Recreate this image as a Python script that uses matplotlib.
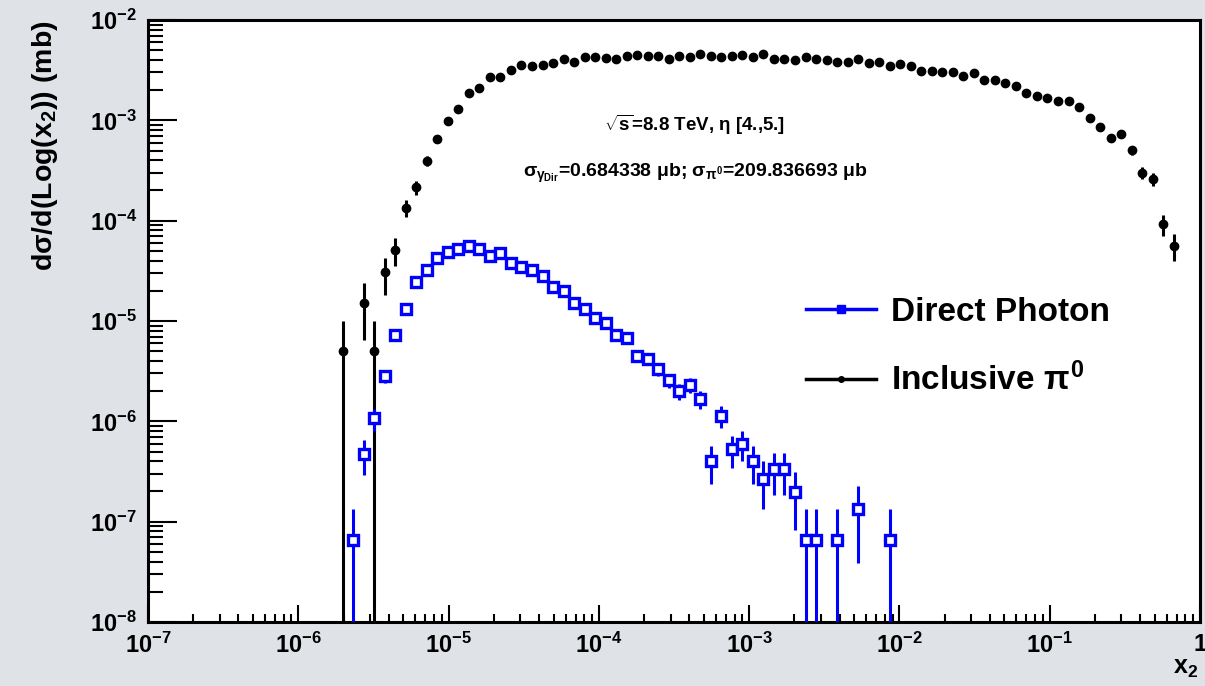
import numpy as np
import matplotlib
matplotlib.use("Agg")
import matplotlib.pyplot as plt
from matplotlib.ticker import LogLocator, FuncFormatter, NullFormatter
from matplotlib.lines import Line2D

plt.rcParams['font.family'] = ['Liberation Sans', 'DejaVu Sans']
plt.rcParams['font.weight'] = 'bold'
plt.rcParams['mathtext.fontset'] = 'custom'
plt.rcParams['mathtext.rm'] = 'Liberation Sans:bold'
plt.rcParams['mathtext.bf'] = 'Liberation Sans:bold'
plt.rcParams['mathtext.it'] = 'Liberation Sans:bold'
plt.rcParams['mathtext.sf'] = 'Liberation Sans:bold'

# ---- histogram binning: 100 log bins in x2 from 1e-7 to 1 ----
n_bins = 100
x_min_exp, x_max_exp = -7, 0

# ---- Inclusive pi0 : bin contents (mb), 0 = empty bin ----
pi0_values = [
    0, 0, 0, 0, 0, 0, 0, 0, 0, 0,
    0, 0, 0, 0, 0, 0, 0, 0, 5.05e-6, 0,
    1.52e-5, 5.05e-6, 3.05e-5, 5.13e-5, 1.34e-4, 2.15e-4, 3.95e-4, 6.56e-4, 9.9e-4, 1.30e-3,
    1.86e-3, 2.08e-3, 2.68e-3, 2.68e-3, 3.20e-3, 3.53e-3, 3.50e-3, 3.53e-3, 3.70e-3, 4.06e-3,
    3.81e-3, 4.25e-3, 4.25e-3, 4.15e-3, 4.10e-3, 4.41e-3, 4.48e-3, 4.41e-3, 4.41e-3, 4.11e-3,
    4.35e-3, 4.25e-3, 4.58e-3, 4.41e-3, 4.25e-3, 4.35e-3, 4.52e-3, 4.25e-3, 4.55e-3, 4.11e-3,
    4.06e-3, 3.97e-3, 4.31e-3, 4.08e-3, 3.99e-3, 3.84e-3, 3.79e-3, 4.08e-3, 3.70e-3, 3.79e-3,
    3.50e-3, 3.61e-3, 3.47e-3, 3.10e-3, 3.10e-3, 3.05e-3, 3.05e-3, 2.79e-3, 2.94e-3, 2.52e-3,
    2.52e-3, 2.34e-3, 2.21e-3, 1.86e-3, 1.76e-3, 1.66e-3, 1.56e-3, 1.57e-3, 1.35e-3, 1.05e-3,
    8.63e-4, 6.61e-4, 7.25e-4, 5.06e-4, 3.00e-4, 2.60e-4, 9.25e-5, 5.62e-5, 0, 0,
]
pi0_errors = [
    0, 0, 0, 0, 0, 0, 0, 0, 0, 0,
    0, 0, 0, 0, 0, 0, 0, 0, 5.05e-6, 0,
    8.7e-6, 5.05e-6, 1.23e-5, 1.6e-5, 2.6e-5, 3.3e-5, 4.4e-5, 5.7e-5, 7.0e-5, 8.1e-5,
    9.6e-5, 1.02e-4, 1.16e-4, 1.16e-4, 1.26e-4, 1.33e-4, 1.33e-4, 1.33e-4, 1.36e-4, 1.45e-4,
    1.45e-4, 1.45e-4, 1.45e-4, 1.45e-4, 1.45e-4, 1.45e-4, 1.45e-4, 1.45e-4, 1.45e-4, 1.45e-4,
    1.45e-4, 1.45e-4, 1.45e-4, 1.45e-4, 1.45e-4, 1.45e-4, 1.45e-4, 1.45e-4, 1.45e-4, 1.45e-4,
    1.45e-4, 1.45e-4, 1.45e-4, 1.45e-4, 1.45e-4, 1.45e-4, 1.45e-4, 1.45e-4, 1.35e-4, 1.35e-4,
    1.35e-4, 1.35e-4, 1.35e-4, 1.23e-4, 1.23e-4, 1.23e-4, 1.23e-4, 1.23e-4, 1.23e-4, 1.12e-4,
    1.12e-4, 1.07e-4, 1.07e-4, 9.3e-5, 9.3e-5, 9.3e-5, 9.3e-5, 9.3e-5, 8.2e-5, 7.2e-5,
    6.6e-5, 5.7e-5, 6.0e-5, 5.0e-5, 3.9e-5, 3.6e-5, 2.15e-5, 1.68e-5, 0, 0,
]

# ---- Direct photon : bin contents (mb), 0 = empty bin ----
gamma_values = [
    0, 0, 0, 0, 0, 0, 0, 0, 0, 0,
    0, 0, 0, 0, 0, 0, 0, 0, 0, 6.64e-8,
    4.7e-7, 1.07e-6, 2.82e-6, 7.3e-6, 1.31e-5, 2.44e-5, 3.19e-5, 4.27e-5, 4.83e-5, 5.21e-5,
    5.55e-5, 5.21e-5, 4.44e-5, 4.72e-5, 3.75e-5, 3.47e-5, 3.22e-5, 2.78e-5, 2.16e-5, 2.0e-5,
    1.51e-5, 1.32e-5, 1.06e-5, 9.5e-6, 7.2e-6, 6.8e-6, 4.47e-6, 4.14e-6, 3.31e-6, 2.56e-6,
    1.99e-6, 2.3e-6, 1.66e-6, 4.0e-7, 1.14e-6, 5.3e-7, 6.0e-7, 4.0e-7, 2.67e-7, 3.34e-7,
    3.34e-7, 1.98e-7, 6.64e-8, 6.64e-8, 0, 6.64e-8, 0, 1.33e-7, 0, 0,
    6.64e-8, 0, 0, 0, 0, 0, 0, 0, 0, 0,
    0, 0, 0, 0, 0, 0, 0, 0, 0, 0,
    0, 0, 0, 0, 0, 0, 0, 0, 0, 0,
]
gamma_errors = [
    0, 0, 0, 0, 0, 0, 0, 0, 0, 0,
    0, 0, 0, 0, 0, 0, 0, 0, 0, 6.64e-8,
    1.77e-7, 2.67e-7, 4.33e-7, 6.96e-7, 9.3e-7, 1.27e-6, 1.46e-6, 1.68e-6, 1.79e-6, 1.86e-6,
    1.92e-6, 1.86e-6, 1.72e-6, 1.77e-6, 1.58e-6, 1.52e-6, 1.46e-6, 1.36e-6, 1.20e-6, 1.15e-6,
    1.0e-6, 9.4e-7, 8.4e-7, 7.9e-7, 6.9e-7, 6.7e-7, 5.4e-7, 5.2e-7, 4.7e-7, 4.1e-7,
    3.6e-7, 3.9e-7, 3.3e-7, 1.63e-7, 2.75e-7, 1.88e-7, 2.0e-7, 1.63e-7, 1.33e-7, 1.49e-7,
    1.49e-7, 1.15e-7, 6.64e-8, 6.64e-8, 0, 6.64e-8, 0, 9.4e-8, 0, 0,
    6.64e-8, 0, 0, 0, 0, 0, 0, 0, 0, 0,
    0, 0, 0, 0, 0, 0, 0, 0, 0, 0,
    0, 0, 0, 0, 0, 0, 0, 0, 0, 0,
]

label_gamma = "Direct Photon"
label_pi0 = r"Inclusive $\pi^{0}$"
text_energy = r"$\sqrt{\mathrm{s}}$=8.8 TeV, $\eta$ [4.,5.]"
text_sigma = r"$\sigma_{\gamma_{Dir}}$=0.684338 $\mu$b; $\sigma_{\pi^{0}}$=209.836693 $\mu$b"

# ---- figure ----
W, H = 1205, 686
fig = plt.figure(figsize=(W / 100, H / 100), dpi=100)
fig.patch.set_facecolor('#dfe2e7')
ax = fig.add_axes([148 / W, 1 - 622 / H, (1200 - 148) / W, (622 - 20) / H])
ax.set_facecolor('white')

edges = np.logspace(x_min_exp, x_max_exp, n_bins + 1)
centers = np.sqrt(edges[:-1] * edges[1:])

ax.set_xscale('log')
ax.set_yscale('log', nonpositive='clip')

pv = np.array(pi0_values); pe = np.array(pi0_errors)
gv = np.array(gamma_values); ge = np.array(gamma_errors)
mp = pv > 0
mg = gv > 0

ax.errorbar(centers[mp], pv[mp], yerr=pe[mp], fmt='o', color='black', ms=6,
            elinewidth=2.2, capsize=0, zorder=3)
ax.errorbar(centers[mg], gv[mg], yerr=ge[mg], fmt='s', color='#0000ff', mfc='white',
            mec='#0000ff', ms=6.8, mew=2.4, elinewidth=2.2, capsize=0, zorder=4)

ax.set_xlim(10.0 ** x_min_exp, 10.0 ** x_max_exp)
ax.set_ylim(1e-8, 1e-2)

for s in ax.spines.values():
    s.set_linewidth(2.2)

ax.xaxis.set_major_locator(LogLocator(base=10, numticks=20))
ax.xaxis.set_minor_locator(LogLocator(base=10, subs=np.arange(2, 10), numticks=20))
ax.yaxis.set_major_locator(LogLocator(base=10, numticks=20))
ax.yaxis.set_minor_locator(LogLocator(base=10, subs=np.arange(2, 10), numticks=20))


def fmt(v, pos):
    e = int(round(np.log10(v)))
    if e == 0:
        return r"$\mathbf{1}$"
    return r"$\mathbf{10^{%d}}$" % e


ax.xaxis.set_major_formatter(FuncFormatter(fmt))
ax.yaxis.set_major_formatter(FuncFormatter(fmt))
ax.xaxis.set_minor_formatter(NullFormatter())
ax.yaxis.set_minor_formatter(NullFormatter())

ax.tick_params(axis='x', which='major', direction='in', length=12, width=1.5,
               labelsize=17, pad=8, top=False)
ax.tick_params(axis='x', which='minor', direction='in', length=6, width=1.5, top=False)
ax.tick_params(axis='y', which='major', direction='in', length=21, width=1.5,
               labelsize=17, pad=8, right=False)
ax.tick_params(axis='y', which='minor', direction='in', length=11, width=1.5, right=False)

# annotations
fig.text(695 / W, 1 - 125 / H, text_energy, ha='center', va='center', fontsize=13.5,
         fontweight='bold')
fig.text(695 / W, 1 - 173 / H, text_sigma, ha='center', va='center', fontsize=14,
         fontweight='bold')

# axis titles
fig.text(45 / W, 1 - 20 / H, r"d$\sigma$/d(Log(x$_{2}$)) (mb)", rotation=90, ha='center',
         va='top', fontsize=20.5, fontweight='bold')
fig.text(1198 / W, 1 - 668 / H, r"x$_{2}$", ha='right', va='center', fontsize=18,
         fontweight='bold')

# legend
handles = [
    Line2D([0], [0], color='#0000ff', lw=2.5, marker='s', ms=6, mfc='#0000ff', mec='#0000ff'),
    Line2D([0], [0], color='black', lw=2.5, marker='o', ms=4),
]
leg = ax.legend(handles, [label_gamma, label_pi0], loc='upper left',
                bbox_to_anchor=((806 - 148) / 1052, 1 - (297 - 20) / 602),
                frameon=False, prop={'size': 24, 'weight': 'bold'},
                handlelength=2.1, handletextpad=0.45, labelspacing=1.05,
                borderpad=0, borderaxespad=0)

fig.savefig('out.png', dpi=100, facecolor=fig.get_facecolor())
